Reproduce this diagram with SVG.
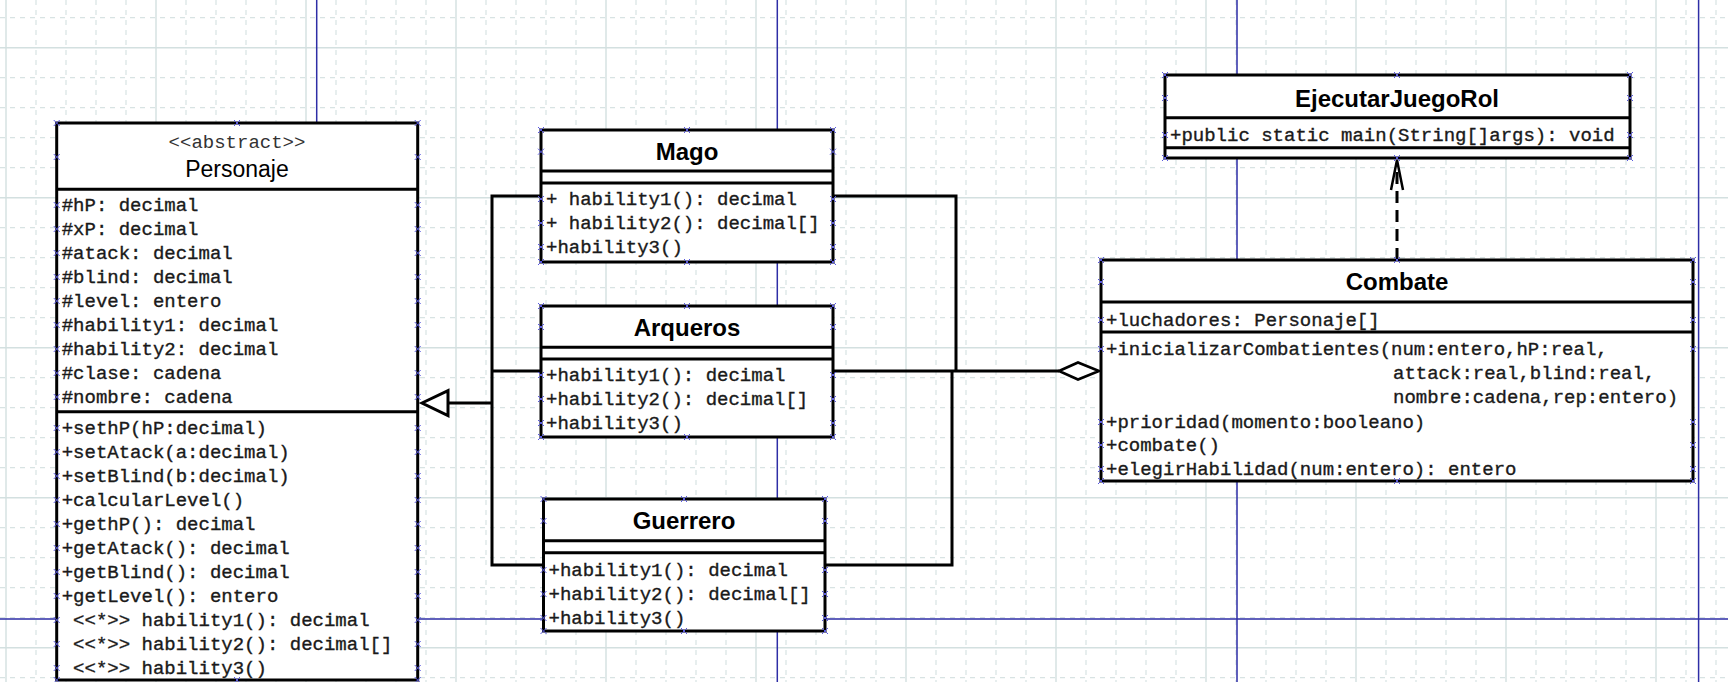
<svg xmlns="http://www.w3.org/2000/svg" width="1728" height="682" viewBox="0 0 1728 682">
<style>
.bg{fill:#fff}
.gd{fill:none;stroke:#d8e3e3;stroke-width:1.2;stroke-dasharray:5,5}
.gs{fill:none;stroke:#d3e0e0;stroke-width:1.4}
.pg{fill:none;stroke:#2e2ea6;stroke-width:1.5}
.box{fill:#fff;stroke:#000;stroke-width:3}
.sep{fill:none;stroke:#000;stroke-width:3}
.t{font-family:"Liberation Mono","DejaVu Sans Mono",monospace;font-size:19px;fill:#1a1a1a;stroke:#1a1a1a;stroke-width:0.35}
.ab{font-family:"Liberation Mono","DejaVu Sans Mono",monospace;font-size:19px;fill:#333;text-anchor:middle}
.ttl{font-family:"Liberation Sans",Arial,sans-serif;font-size:24px;font-weight:bold;text-anchor:middle;fill:#000}
.nm{font-family:"Liberation Sans",Arial,sans-serif;font-size:23px;text-anchor:middle;fill:#000}
.hdl{fill:none;stroke:#5a5ae0;stroke-width:1}
.ln{fill:none;stroke:#000;stroke-width:3}
</style>
<rect class="bg" x="0" y="0" width="1728" height="682"/>
<g id="grid">
<path class="gd" d="M36 0V682M66 0V682M96 0V682M126 0V682M186 0V682M216 0V682M246 0V682M276 0V682M336 0V682M366 0V682M396 0V682M426 0V682M486 0V682M516 0V682M546 0V682M576 0V682M636 0V682M666 0V682M696 0V682M726 0V682M786 0V682M816 0V682M846 0V682M876 0V682M936 0V682M966 0V682M996 0V682M1026 0V682M1086 0V682M1116 0V682M1146 0V682M1176 0V682M1236 0V682M1266 0V682M1296 0V682M1326 0V682M1386 0V682M1416 0V682M1446 0V682M1476 0V682M1536 0V682M1566 0V682M1596 0V682M1626 0V682M1686 0V682M1716 0V682"/>
<path class="gd" d="M0 17.7H1728M0 77.7H1728M0 107.7H1728M0 137.7H1728M0 167.7H1728M0 227.7H1728M0 257.7H1728M0 287.7H1728M0 317.7H1728M0 377.7H1728M0 407.7H1728M0 437.7H1728M0 467.7H1728M0 527.7H1728M0 557.7H1728M0 587.7H1728M0 617.7H1728M0 677.7H1728"/>
<path class="gs" d="M6 0V682M156 0V682M306 0V682M456 0V682M606 0V682M756 0V682M906 0V682M1056 0V682M1206 0V682M1356 0V682M1506 0V682M1656 0V682M0 47.7H1728M0 197.7H1728M0 347.7H1728M0 497.7H1728M0 647.7H1728"/>
</g>
<g id="page-breaks">
<path class="pg" d="M316.7 0V123M777.3 0V682M1237 0V682M1698.6 0V682M0 619H1728"/>
</g>
<g id="connectors">
<path class="ln" d="M541 196H492V565H543.5"/>
<path class="ln" d="M492 371H541"/>
<path class="ln" d="M448 403H492"/>
<polygon class="ln" style="fill:#fff" points="422,403 448,390.7 448,415.7"/>
<path class="ln" d="M833 196H956V371"/>
<path class="ln" d="M825 565H952V371"/>
<path class="ln" d="M833 371H1059"/>
<polygon class="ln" style="fill:#fff;stroke-width:2.6" points="1059,371 1078,362.5 1099,371 1078,379.5"/>
<path class="ln" d="M1397 260V166" stroke-dasharray="12,7"/>
<path class="ln" style="stroke-width:2.5" d="M1391 190L1397 160L1403 190"/>
</g>
<g id="personaje">
<rect class="box" x="56.7" y="123" width="361" height="557"/>
<path class="sep" d="M56.7 189.3H417.7M56.7 411.7H417.7"/>
<text class="ab" x="237" y="148">&lt;&lt;abstract&gt;&gt;</text>
<text class="nm" x="237" y="177">Personaje</text>
<text class="t" x="61.7" y="211">#hP: decimal</text>
<text class="t" x="61.7" y="235">#xP: decimal</text>
<text class="t" x="61.7" y="259">#atack: decimal</text>
<text class="t" x="61.7" y="283">#blind: decimal</text>
<text class="t" x="61.7" y="307">#level: entero</text>
<text class="t" x="61.7" y="331">#hability1: decimal</text>
<text class="t" x="61.7" y="355">#hability2: decimal</text>
<text class="t" x="61.7" y="379">#clase: cadena</text>
<text class="t" x="61.7" y="403">#nombre: cadena</text>
<text class="t" x="61.7" y="434">+sethP(hP:decimal)</text>
<text class="t" x="61.7" y="458">+setAtack(a:decimal)</text>
<text class="t" x="61.7" y="482">+setBlind(b:decimal)</text>
<text class="t" x="61.7" y="506">+calcularLevel()</text>
<text class="t" x="61.7" y="530">+gethP(): decimal</text>
<text class="t" x="61.7" y="554">+getAtack(): decimal</text>
<text class="t" x="61.7" y="578">+getBlind(): decimal</text>
<text class="t" x="61.7" y="602">+getLevel(): entero</text>
<text class="t" x="73.1" y="626">&lt;&lt;*&gt;&gt; hability1(): decimal</text>
<text class="t" x="73.1" y="650">&lt;&lt;*&gt;&gt; hability2(): decimal[]</text>
<text class="t" x="73.1" y="674">&lt;&lt;*&gt;&gt; hability3()</text>
<path class="hdl" d="M53.7 120l6 6m0-6l-6 6M414.7 120l6 6m0-6l-6 6M234 120l6 6m0-6l-6 6M53.7 677l6 6m0-6l-6 6M414.7 677l6 6m0-6l-6 6M234 677l6 6m0-6l-6 6M53.7 154l6 6m0-6l-6 6M414.7 154l6 6m0-6l-6 6M53.7 202l6 6m0-6l-6 6M414.7 202l6 6m0-6l-6 6M53.7 226l6 6m0-6l-6 6M414.7 226l6 6m0-6l-6 6M53.7 250l6 6m0-6l-6 6M414.7 250l6 6m0-6l-6 6M53.7 274l6 6m0-6l-6 6M414.7 274l6 6m0-6l-6 6M53.7 298l6 6m0-6l-6 6M414.7 298l6 6m0-6l-6 6M53.7 322l6 6m0-6l-6 6M414.7 322l6 6m0-6l-6 6M53.7 346l6 6m0-6l-6 6M414.7 346l6 6m0-6l-6 6M53.7 370l6 6m0-6l-6 6M414.7 370l6 6m0-6l-6 6M53.7 394l6 6m0-6l-6 6M414.7 394l6 6m0-6l-6 6M53.7 425l6 6m0-6l-6 6M414.7 425l6 6m0-6l-6 6M53.7 449l6 6m0-6l-6 6M414.7 449l6 6m0-6l-6 6M53.7 473l6 6m0-6l-6 6M414.7 473l6 6m0-6l-6 6M53.7 497l6 6m0-6l-6 6M414.7 497l6 6m0-6l-6 6M53.7 521l6 6m0-6l-6 6M414.7 521l6 6m0-6l-6 6M53.7 545l6 6m0-6l-6 6M414.7 545l6 6m0-6l-6 6M53.7 569l6 6m0-6l-6 6M414.7 569l6 6m0-6l-6 6M53.7 593l6 6m0-6l-6 6M414.7 593l6 6m0-6l-6 6M53.7 617l6 6m0-6l-6 6M414.7 617l6 6m0-6l-6 6M53.7 641l6 6m0-6l-6 6M414.7 641l6 6m0-6l-6 6M53.7 665l6 6m0-6l-6 6M414.7 665l6 6m0-6l-6 6"/>
</g>
<g id="mago">
<rect class="box" x="541" y="130" width="292" height="132"/>
<path class="sep" d="M541 171H833M541 183H833"/>
<text class="ttl" x="687" y="160">Mago</text>
<text class="t" x="546" y="205">+ hability1(): decimal</text>
<text class="t" x="546" y="229">+ hability2(): decimal[]</text>
<text class="t" x="546" y="253">+hability3()</text>
<path class="hdl" d="M538 127l6 6m0-6l-6 6M830 127l6 6m0-6l-6 6M684 127l6 6m0-6l-6 6M538 259l6 6m0-6l-6 6M830 259l6 6m0-6l-6 6M684 259l6 6m0-6l-6 6M538 148.7l6 6m0-6l-6 6M830 148.7l6 6m0-6l-6 6M538 196l6 6m0-6l-6 6M830 196l6 6m0-6l-6 6M538 220l6 6m0-6l-6 6M830 220l6 6m0-6l-6 6M538 244l6 6m0-6l-6 6M830 244l6 6m0-6l-6 6"/>
</g>
<g id="arqueros">
<rect class="box" x="541" y="306" width="292" height="131"/>
<path class="sep" d="M541 347.3H833M541 359H833"/>
<text class="ttl" x="687" y="336">Arqueros</text>
<text class="t" x="546" y="381">+hability1(): decimal</text>
<text class="t" x="546" y="405">+hability2(): decimal[]</text>
<text class="t" x="546" y="429">+hability3()</text>
<path class="hdl" d="M538 303l6 6m0-6l-6 6M830 303l6 6m0-6l-6 6M684 303l6 6m0-6l-6 6M538 434l6 6m0-6l-6 6M830 434l6 6m0-6l-6 6M684 434l6 6m0-6l-6 6M538 324l6 6m0-6l-6 6M830 324l6 6m0-6l-6 6M538 372l6 6m0-6l-6 6M830 372l6 6m0-6l-6 6M538 396l6 6m0-6l-6 6M830 396l6 6m0-6l-6 6M538 420l6 6m0-6l-6 6M830 420l6 6m0-6l-6 6"/>
</g>
<g id="guerrero">
<rect class="box" x="543.5" y="499" width="281.5" height="132"/>
<path class="sep" d="M543.5 540.7H825M543.5 552.7H825"/>
<text class="ttl" x="684" y="529">Guerrero</text>
<text class="t" x="548.5" y="576">+hability1(): decimal</text>
<text class="t" x="548.5" y="600">+hability2(): decimal[]</text>
<text class="t" x="548.5" y="624">+hability3()</text>
<path class="hdl" d="M540.5 496l6 6m0-6l-6 6M822 496l6 6m0-6l-6 6M681 496l6 6m0-6l-6 6M540.5 628l6 6m0-6l-6 6M822 628l6 6m0-6l-6 6M681 628l6 6m0-6l-6 6M540.5 518l6 6m0-6l-6 6M822 518l6 6m0-6l-6 6M540.5 567l6 6m0-6l-6 6M822 567l6 6m0-6l-6 6M540.5 591l6 6m0-6l-6 6M822 591l6 6m0-6l-6 6M540.5 615l6 6m0-6l-6 6M822 615l6 6m0-6l-6 6"/>
</g>
<g id="ejecutarjuegorol">
<rect class="box" x="1165" y="75" width="465" height="83"/>
<path class="sep" d="M1165 117.7H1630M1165 147.7H1630"/>
<text class="ttl" x="1397" y="107">EjecutarJuegoRol</text>
<text class="t" x="1170" y="141">+public static main(String[]args): void</text>
<path class="hdl" d="M1162 72l6 6m0-6l-6 6M1627 72l6 6m0-6l-6 6M1394 72l6 6m0-6l-6 6M1162 155l6 6m0-6l-6 6M1627 155l6 6m0-6l-6 6M1394 155l6 6m0-6l-6 6M1162 95l6 6m0-6l-6 6M1627 95l6 6m0-6l-6 6M1162 132l6 6m0-6l-6 6M1627 132l6 6m0-6l-6 6"/>
</g>
<g id="combate">
<rect class="box" x="1101" y="260" width="592" height="221"/>
<path class="sep" d="M1101 302H1693M1101 332H1693"/>
<text class="ttl" x="1397" y="290">Combate</text>
<text class="t" x="1106" y="326">+luchadores: Personaje[]</text>
<text class="t" x="1106" y="355">+inicializarCombatientes(num:entero,hP:real,</text>
<text class="t" x="1393" y="379">attack:real,blind:real,</text>
<text class="t" x="1393" y="403">nombre:cadena,rep:entero)</text>
<text class="t" x="1106" y="428">+prioridad(momento:booleano)</text>
<text class="t" x="1106" y="451">+combate()</text>
<text class="t" x="1106" y="475">+elegirHabilidad(num:entero): entero</text>
<path class="hdl" d="M1098 257l6 6m0-6l-6 6M1690 257l6 6m0-6l-6 6M1394 257l6 6m0-6l-6 6M1098 478l6 6m0-6l-6 6M1690 478l6 6m0-6l-6 6M1394 478l6 6m0-6l-6 6M1098 279l6 6m0-6l-6 6M1690 279l6 6m0-6l-6 6M1098 317l6 6m0-6l-6 6M1690 317l6 6m0-6l-6 6M1098 346l6 6m0-6l-6 6M1690 346l6 6m0-6l-6 6M1098 419l6 6m0-6l-6 6M1690 419l6 6m0-6l-6 6M1098 442l6 6m0-6l-6 6M1690 442l6 6m0-6l-6 6M1098 466l6 6m0-6l-6 6M1690 466l6 6m0-6l-6 6"/>
</g>
</svg>
